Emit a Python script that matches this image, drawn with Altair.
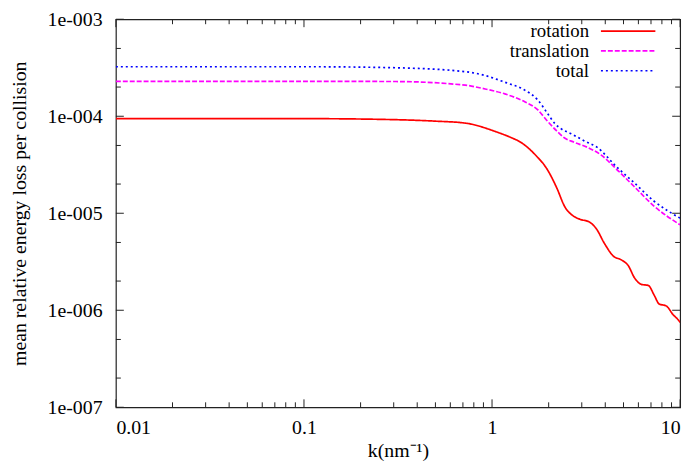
import altair as alt
import pandas as pd

# ---- data ----
series = ["rotation", "translation", "total"]
colors = ["#ff0000", "#ff00ff", "#0000ff"]
dashes = [[1, 0], [5, 2], [2, 3]]

k_rot = [0.01, 0.05, 0.1, 0.247, 0.5, 0.721, 1.076, 1.245, 1.44, 1.73, 1.95, 2.21, 2.43,
         2.72, 2.92, 3.30, 3.59, 3.96, 4.42, 4.88, 5.31, 5.71, 6.22, 6.78, 7.28, 7.74,
         8.43, 9.18, 9.75, 10.0]
rotation = [9.45e-5, 9.45e-5, 9.45e-5, 9.3e-5, 8.9e-5, 8.5e-5, 6.8e-5, 6.1e-5, 5.3e-5,
            3.85e-5, 2.90e-5, 1.82e-5, 1.18e-5, 9.3e-6, 8.7e-6, 8.1e-6, 6.9e-6, 4.88e-6,
            3.61e-6, 3.30e-6, 2.87e-6, 2.17e-6, 1.85e-6, 1.80e-6, 1.43e-6, 1.16e-6,
            1.11e-6, 9.0e-7, 8.0e-7, 7.5e-7]

k_trans = [0.01, 0.1, 0.309, 0.721, 0.919, 1.17, 1.492, 1.746, 1.972, 2.20, 2.42, 2.73,
           3.20, 3.79, 4.72, 5.66, 7.21, 10.0]
translation = [2.29e-4, 2.29e-4, 2.28e-4, 2.09e-4, 1.91e-4, 1.70e-4, 1.41e-4, 1.17e-4,
               8.9e-5, 7.1e-5, 6.0e-5, 5.4e-5, 4.8e-5, 4.0e-5, 2.7e-5, 1.91e-5, 1.20e-5,
               7.6e-6]

k_tot = [0.01, 0.1, 0.309, 0.721, 0.919, 1.17, 1.492, 1.746, 1.972, 2.147, 2.335, 2.636,
         3.08, 3.61, 4.60, 5.66, 7.21, 10.0]
total = [3.24e-4, 3.24e-4, 3.16e-4, 2.88e-4, 2.63e-4, 2.24e-4, 1.86e-4, 1.48e-4, 1.07e-4,
         8.5e-5, 7.4e-5, 6.6e-5, 5.6e-5, 4.8e-5, 3.0e-5, 2.09e-5, 1.35e-5, 8.9e-6]

x_major = [0.01, 0.1, 1, 10]
x_minor = [0.02, 0.03, 0.04, 0.05, 0.06, 0.07, 0.08, 0.09,
           0.2, 0.3, 0.4, 0.5, 0.6, 0.7, 0.8, 0.9,
           2, 3, 4, 5, 6, 7, 8, 9]
y_major = [1e-3, 1e-4, 1e-5, 1e-6, 1e-7]
y_minor = [5e-4, 2e-4, 5e-5, 2e-5, 5e-6, 2e-6, 5e-7, 2e-7]

W, H = 570, 392
FONT = "Liberation Serif"

df = pd.concat([
    pd.DataFrame({"k": k_rot, "v": rotation, "series": "rotation"}),
    pd.DataFrame({"k": k_trans, "v": translation, "series": "translation"}),
    pd.DataFrame({"k": k_tot, "v": total, "series": "total"}),
])

xs = alt.Scale(type="log", domain=[0.01, 10], nice=False)
ys = alt.Scale(type="log", domain=[1e-7, 1e-3], nice=False)

x_axis = alt.Axis(values=x_major, format="~g", title="k(nm⁻¹)", labelPadding=10,
                  titleX=W / 2, titleY=50, titleBaseline="alphabetic")
y_axis = alt.Axis(values=y_major, labelExpr="'1e-00' + round(-log(datum.value)/LN10)",
                  title="mean relative energy loss per collision", labelPadding=14,
                  titleX=-97, titleY=H / 2, titleAngle=-90, titleAlign="center",
                  titleBaseline="middle")

lines = alt.Chart(df).mark_line(interpolate="monotone", strokeWidth=1.7, clip=True).encode(
    x=alt.X("k:Q", scale=xs, axis=x_axis),
    y=alt.Y("v:Q", scale=ys, axis=y_axis),
    color=alt.Color("series:N", scale=alt.Scale(domain=series, range=colors), legend=None),
    strokeDash=alt.StrokeDash("series:N", scale=alt.Scale(domain=series, range=dashes),
                              legend=None),
    order="k:Q",
)

layers = [lines]


def xticks(vals, length):
    d = pd.DataFrame({"k": vals})
    base = alt.Chart(d).mark_rule(color="#222", strokeWidth=1)
    return [
        base.encode(x=alt.X("k:Q", scale=xs, axis=x_axis), y=alt.value(H), y2=alt.value(H - length)),
        base.encode(x=alt.X("k:Q", scale=xs, axis=x_axis), y=alt.value(0), y2=alt.value(length)),
    ]


def yticks(vals, length):
    d = pd.DataFrame({"v": vals})
    base = alt.Chart(d).mark_rule(color="#222", strokeWidth=1)
    return [
        base.encode(y=alt.Y("v:Q", scale=ys, axis=y_axis), x=alt.value(0), x2=alt.value(length)),
        base.encode(y=alt.Y("v:Q", scale=ys, axis=y_axis), x=alt.value(W), x2=alt.value(W - length)),
    ]


layers += xticks(x_major, 8) + xticks(x_minor, 5) + yticks(y_major, 8) + yticks(y_minor, 5)

# legend (top right, inside)
rows = [12, 32, 52]
for name, col, dash, ry in zip(series, colors, dashes, rows):
    d = pd.DataFrame({"s": [name]})
    layers.append(alt.Chart(d).mark_text(align="right", baseline="middle", font=FONT,
                                         fontSize=19, color="black").encode(
        text="s:N", x=alt.value(478), y=alt.value(ry)))
    layers.append(alt.Chart(d).mark_rule(color=col, strokeDash=dash, strokeWidth=1.7).encode(
        x=alt.value(490), x2=alt.value(545), y=alt.value(ry)))

chart = alt.layer(*layers).properties(
    width=W, height=H,
    autosize=alt.AutoSizeParams(type="none"),
    padding={"left": 109, "top": 9, "right": 12, "bottom": 60},
).configure_view(
    stroke="#222", strokeWidth=1.2
).configure_axis(
    labelFont=FONT, labelFontSize=20, labelColor="black",
    titleFont=FONT, titleFontSize=20, titleFontWeight="normal", titleColor="black",
    ticks=False, tickSize=0, domain=False, grid=False,
)

chart.save("out.html", embed_options={"renderer": "svg", "actions": False})
